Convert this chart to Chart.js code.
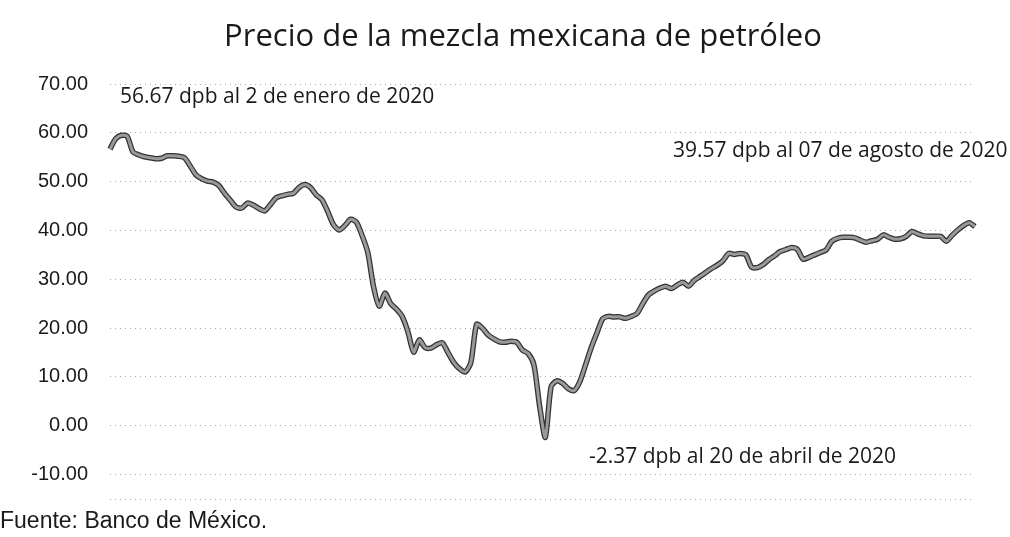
<!DOCTYPE html>
<html>
<head>
<meta charset="utf-8">
<script src="https://cdn.jsdelivr.net/npm/chart.js@4/dist/chart.umd.min.js"></script>
<style>
  html, body { margin: 0; padding: 0; background: #fff; }
  #wrap { width: 1010px; height: 537px; position: relative; }
</style>
</head>
<body>
<div id="wrap"><canvas id="grafica" width="1010" height="537"></canvas></div>
<script>
// precio diario (dpb), 2 de enero a 7 de agosto de 2020
var precios = [
  56.67, 58.8, 59.5, 59.3, 56.1, 55.5, 55.1, 54.9, 54.7, 54.8,
  55.3, 55.3, 55.2, 54.9, 53.2, 51.4, 50.6, 50.1, 49.9, 49.2,
  47.6, 46.2, 44.8, 44.6, 45.6, 45.2, 44.5, 44.0, 45.3, 46.7,
  47.1, 47.4, 47.6, 48.8, 49.4, 48.8, 47.3, 46.3, 43.9, 41.2,
  40.1, 41.0, 42.3, 41.7, 39.0, 35.5, 28.5, 24.5, 27.2, 25.0,
  23.9, 22.4, 19.3, 15.1, 17.6, 16.0, 15.9, 16.6, 17.0, 15.0,
  13.0, 11.7, 11.0, 13.0, 20.8, 20.0, 18.6, 17.8, 17.2, 17.1,
  17.3, 17.1, 15.5, 14.8, 12.5, 4.0, -2.37, 8.0, 9.2, 8.7,
  7.6, 7.2, 9.0, 12.4, 16.0, 19.0, 21.9, 22.4, 22.3, 22.3,
  22.0, 22.4, 23.0, 25.0, 26.8, 27.6, 28.2, 28.6, 28.1, 28.8,
  29.4, 28.6, 29.8, 30.6, 31.4, 32.2, 32.9, 33.8, 35.3, 35.1,
  35.3, 35.0, 32.5, 32.4, 33.0, 34.0, 34.8, 35.7, 36.1, 36.5,
  36.1, 34.1, 34.5, 35.0, 35.5, 36.0, 37.8, 38.4, 38.6, 38.6,
  38.5, 38.0, 37.6, 37.9, 38.2, 39.1, 38.6, 38.2, 38.3, 38.8,
  39.8, 39.3, 38.9, 38.8, 38.8, 38.8, 37.8, 39.0, 40.1, 41.0,
  41.6, 40.8
];
var dias = precios.map(function (p, i) { return i + 1; });
var marcasY = [-15, -10, 0, 10, 20, 30, 40, 50, 60, 70];

var titulo = "Precio de la mezcla mexicana de petróleo";
var notas = [
  { texto: "56.67 dpb al 2 de enero de 2020", x: 120, y: 97 },
  { texto: "39.57 dpb al 07 de agosto de 2020", x: 673, y: 151 },
  { texto: "-2.37 dpb al 20 de abril de 2020", x: 589, y: 457 }
];
var fuente = "Fuente: Banco de México.";

// textos sueltos: titulo, notas y fuente
var textos = {
  id: "textos",
  afterDraw: function (chart) {
    var ctx = chart.ctx;
    ctx.save();
    ctx.fillStyle = "#1a1a1a";
    ctx.textBaseline = "middle";
    ctx.textAlign = "center";
    ctx.font = "31px 'Open Sans'";
    ctx.fillText(titulo, 523, 37);
    ctx.textAlign = "left";
    ctx.font = "21px 'Open Sans'";
    notas.forEach(function (n) { ctx.fillText(n.texto, n.x, n.y); });
    ctx.font = "23px 'Liberation Sans'";
    ctx.fillText(fuente, 0, 522);
    ctx.restore();
  }
};

new Chart(document.getElementById("grafica"), {
  type: "line",
  data: {
    labels: dias,
    datasets: [{
      data: precios,
      borderColor: "#999999",
      borderWidth: 3,
      pointRadius: 0,
      tension: 0.25,
      order: 1
    }, {
      data: precios,
      borderColor: "#333333",
      borderWidth: 5.5,
      pointRadius: 0,
      tension: 0.25,
      order: 2
    }]
  },
  options: {
    responsive: false,
    animation: false,
    layout: { padding: { top: 84, bottom: 38, right: 35, left: 0 } },
    plugins: { legend: { display: false }, tooltip: { enabled: false } },
    scales: {
      x: { display: false },
      y: {
        min: -15,
        max: 70,
        afterBuildTicks: function (s) {
          s.ticks = marcasY.map(function (v) { return { value: v }; });
        },
        afterFit: function (s) { s.width = 110; },
        border: { display: false, dash: [1, 4] },
        grid: { color: "#a8a8a8", lineWidth: 1, drawTicks: false },
        ticks: {
          padding: 22,
          color: "#1a1a1a",
          font: { family: "'Liberation Sans'", size: 20 },
          callback: function (v) { return v === -15 ? "" : v.toFixed(2); }
        }
      }
    }
  },
  plugins: [textos]
});
</script>
</body>
</html>
